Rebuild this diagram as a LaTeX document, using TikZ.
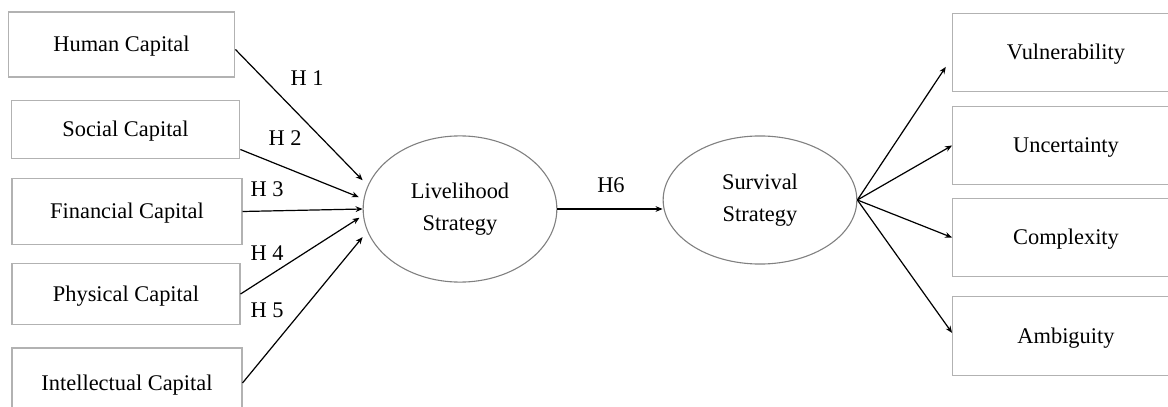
\documentclass[tikz,border=0pt]{standalone}
\usepackage{fontspec}
\setmainfont{Liberation Serif}
\usetikzlibrary{arrows.meta,positioning,shapes.geometric}

\begin{document}
\begin{tikzpicture}[x=0.016cm, y=-0.016cm,
    every node/.style={font=\fontsize{10.2}{14.5}\selectfont},
    box/.style={draw=black!30, line width=0.5pt, rectangle, inner sep=0pt, text depth=0.1ex},
    oval/.style={draw=black!50, line width=0.5pt, ellipse, inner sep=0pt, align=center},
    link/.style={-{Stealth[length=3.2pt,width=2.6pt]}, line width=0.55pt, black}]
    \useasboundingbox (0,0) rectangle (1168,407);
    % capitals
    \node[box, minimum width=3.63cm, minimum height=1.04cm] (hum) at (121.5, 44.5) {Human Capital};
    \node[box, minimum width=3.66cm, minimum height=0.94cm] (soc) at (125.5, 129.5) {Social Capital};
    \node[box, minimum width=3.68cm, minimum height=1.07cm] (fin) at (127, 211.5) {Financial Capital};
    \node[box, minimum width=3.65cm, minimum height=0.99cm] (phy) at (126, 294) {Physical Capital};
    \node[box, minimum width=3.68cm, minimum height=1.12cm] (int) at (127, 383) {Intellectual Capital};
    % strategies
    \node[oval, minimum width=3.10cm, minimum height=2.34cm] (lhs) at (460, 209) {Livelihood\\Strategy};
    \node[oval, minimum width=3.10cm, minimum height=2.05cm] (sst) at (760, 200) {Survival\\Strategy};
    % outcomes
    \node[box, minimum width=3.63cm, minimum height=1.26cm] (vul) at (1066, 52.5) {Vulnerability};
    \node[box, minimum width=3.63cm, minimum height=1.26cm] (unc) at (1066, 145.5) {Uncertainty};
    \node[box, minimum width=3.63cm, minimum height=1.26cm] (com) at (1066, 237.5) {Complexity};
    \node[box, minimum width=3.63cm, minimum height=1.26cm] (amb) at (1066, 336) {Ambiguity};
    % hypotheses
    \draw[link] ([yshift=-0.08cm]hum.east) -- ([yshift=0.46cm]lhs.west);
    \draw[link] ([yshift=-0.32cm]soc.east) -- ([xshift=-0.06cm, yshift=0.19cm]lhs.west);
    \draw[link] (fin.east) -- (lhs.west);
    \draw[link] (phy.east) -- ([xshift=-0.05cm, yshift=-0.14cm]lhs.west);
    \draw[link] (int.east) -- ([yshift=-0.45cm]lhs.west);
    \draw[link] (lhs.east) -- (lhs.east -| sst.west);
    \node (h1) at (307, 78) {H 1};
    \node (h2) at (285, 138) {H 2};
    \node (h3) at (267, 189) {H 3};
    \node (h4) at (267, 253) {H 4};
    \node (h5) at (267, 310) {H 5};
    \node (h6) at (611, 185) {H6};
    % fan out
    \draw[link] (sst.east) -- ([xshift=-0.1cm, yshift=-0.23cm]vul.west);
    \draw[link] (sst.east) -- (unc.west);
    \draw[link] (sst.east) -- (com.west);
    \draw[link] (sst.east) -- ([yshift=0.05cm]amb.west);
\end{tikzpicture}
\end{document}
